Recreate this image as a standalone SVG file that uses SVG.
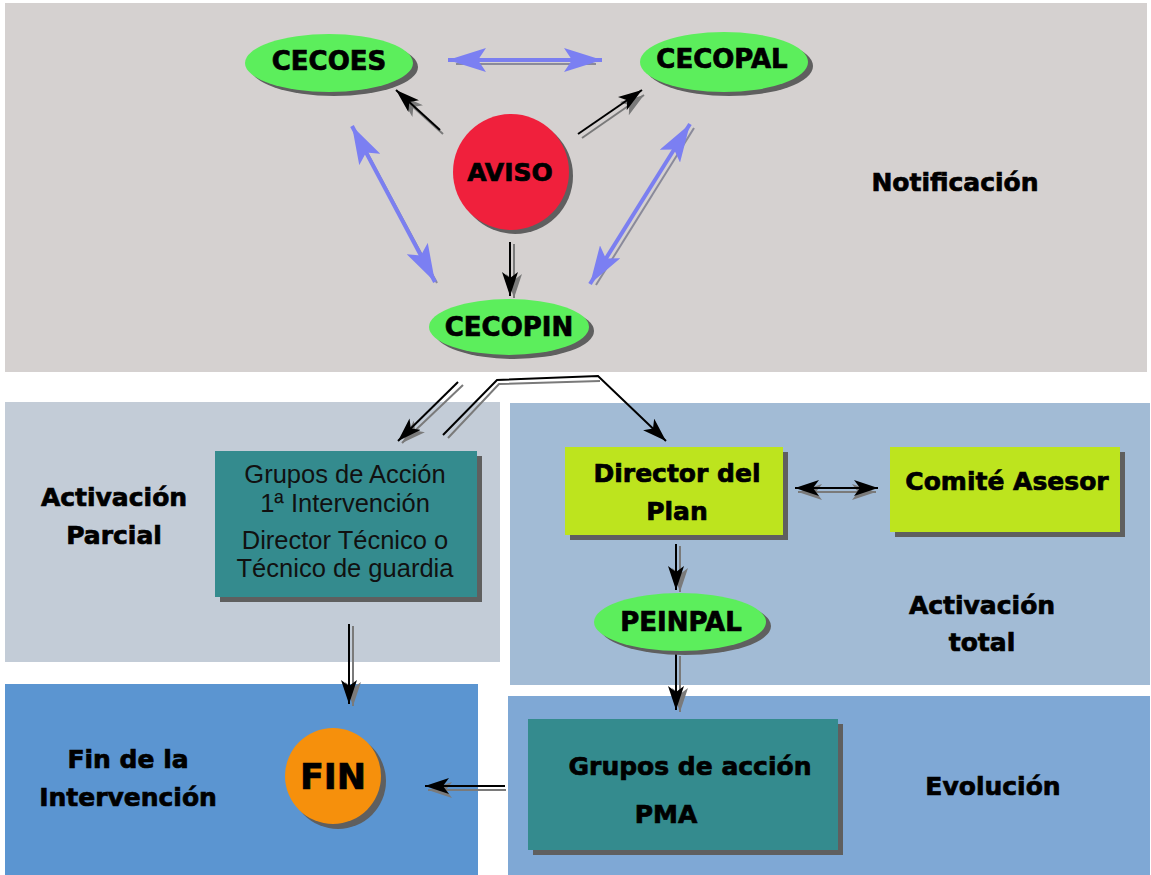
<svg xmlns="http://www.w3.org/2000/svg" width="1151" height="875" viewBox="0 0 1151 875">
<defs>
<style>
.b{font-family:"DejaVu Sans",Verdana,sans-serif;font-weight:bold;fill:#000;stroke:#000;stroke-width:0.7;text-anchor:middle;font-size:25px}
.b26{font-size:26px}
.b34{font-size:35px}
.r{font-family:"Liberation Sans",Arial,sans-serif;fill:#111;text-anchor:middle;font-size:25.5px}
.sh{fill:#5f5f5f}
.ell{fill:#5cee5c}
.ln{stroke:#000;stroke-width:2;fill:none}
.lns{stroke:#7a7a7a;stroke-width:2;fill:none}
.bl{stroke:#7b7ff0;stroke-width:4;fill:none}
.bls{stroke:#8a8a9a;stroke-width:2;fill:none}
</style>
<marker id="ah" viewBox="0 0 24 16" refX="24" refY="8" markerWidth="24" markerHeight="16" orient="auto-start-reverse" markerUnits="userSpaceOnUse"><path d="M0,0 L24,8 L0,16 L6,8 z" fill="#000"/></marker>
<marker id="ahs" viewBox="0 0 24 16" refX="24" refY="8" markerWidth="24" markerHeight="16" orient="auto-start-reverse" markerUnits="userSpaceOnUse"><path d="M0,0 L24,8 L0,16 L6,8 z" fill="#7a7a7a"/></marker>
<marker id="bh" viewBox="0 0 38 24" refX="38" refY="12" markerWidth="38" markerHeight="24" orient="auto-start-reverse" markerUnits="userSpaceOnUse"><path d="M0,0 L38,12 L0,24 L8,12 z" fill="#7b7ff2"/></marker>
</defs>

<!-- panels -->
<rect x="5" y="3" width="1142" height="369" fill="#d5d1d0"/>
<rect x="5" y="402" width="495" height="260" fill="#c3ccd7"/>
<rect x="510" y="403" width="640" height="282" fill="#a2bbd5"/>
<rect x="5" y="684" width="473" height="191" fill="#5b95d1"/>
<rect x="508" y="696" width="642" height="179" fill="#7fa8d5"/>

<!-- labels -->
<text class="b" x="955" y="191">Notificación</text>
<text class="b" x="114" y="506">Activación</text>
<text class="b" x="114" y="544">Parcial</text>
<text class="b" x="982" y="614">Activación</text>
<text class="b" x="982" y="651">total</text>
<text class="b" x="128" y="768">Fin de la</text>
<text class="b" x="128" y="806">Intervención</text>
<text class="b" x="993" y="795">Evolución</text>

<!-- connectors -->
<g id="connectors">
  <line class="bls" x1="456" y1="64" x2="596" y2="64"/>
  <line class="bl" x1="448" y1="60" x2="602" y2="60" marker-start="url(#bh)" marker-end="url(#bh)"/>
  <line class="bls" x1="356" y1="132" x2="437" y2="283"/>
  <line class="bl" x1="352" y1="126" x2="435" y2="282" marker-start="url(#bh)" marker-end="url(#bh)"/>
  <line class="bls" x1="694" y1="128" x2="596" y2="285"/>
  <line class="bl" x1="690" y1="124" x2="590" y2="284" marker-start="url(#bh)" marker-end="url(#bh)"/>
  <line class="lns" x1="443" y1="134" x2="400" y2="95" marker-end="url(#ahs)"/>
  <line class="ln" x1="440" y1="130" x2="396" y2="90" marker-end="url(#ah)"/>
  <line class="lns" x1="582" y1="138" x2="644" y2="95" marker-end="url(#ahs)"/>
  <line class="ln" x1="578" y1="134" x2="642" y2="90" marker-end="url(#ah)"/>
  <line class="lns" x1="514" y1="244" x2="514" y2="298" marker-end="url(#ahs)"/>
  <line class="ln" x1="510" y1="242" x2="510" y2="296" marker-end="url(#ah)"/>
  <line class="lns" x1="463" y1="385" x2="402" y2="443" marker-end="url(#ahs)"/>
  <line class="ln" x1="458" y1="382" x2="398" y2="441" marker-end="url(#ah)"/>
  <polyline class="lns" points="448,438 499,384 600,381"/>
  <polyline class="ln" points="443,435 497,380 598,376 666,441" marker-end="url(#ah)"/>
  <line class="lns" x1="798" y1="492" x2="876" y2="492" marker-start="url(#ahs)" marker-end="url(#ahs)"/>
  <line class="ln" x1="795" y1="488" x2="878" y2="488" marker-start="url(#ah)" marker-end="url(#ah)"/>
  <line class="lns" x1="680" y1="546" x2="680" y2="592" marker-end="url(#ahs)"/>
  <line class="ln" x1="676" y1="544" x2="676" y2="590" marker-end="url(#ah)"/>
  <line class="lns" x1="680" y1="656" x2="680" y2="712" marker-end="url(#ahs)"/>
  <line class="ln" x1="676" y1="654" x2="676" y2="710" marker-end="url(#ah)"/>
  <line class="lns" x1="353" y1="626" x2="353" y2="706" marker-end="url(#ahs)"/>
  <line class="ln" x1="349" y1="624" x2="349" y2="704" marker-end="url(#ah)"/>
  <line class="lns" x1="506" y1="790" x2="428" y2="790" marker-end="url(#ahs)"/>
  <line class="ln" x1="505" y1="786" x2="425" y2="786" marker-end="url(#ah)"/>
</g>

<!-- nodes -->
<g id="cecoes">
  <ellipse class="sh" cx="334" cy="67" rx="84" ry="29"/>
  <ellipse class="ell" cx="329" cy="63" rx="84" ry="29"/>
  <text class="b b26" x="329" y="70">CECOES</text>
</g>
<g id="cecopal">
  <ellipse class="sh" cx="729" cy="66" rx="84" ry="30"/>
  <ellipse class="ell" cx="724" cy="62" rx="84" ry="30"/>
  <text class="b b26" x="722" y="68">CECOPAL</text>
</g>
<g id="aviso">
  <circle class="sh" cx="515" cy="176" r="58"/>
  <circle cx="511" cy="172" r="58" fill="#f0203c"/>
  <text class="b" x="510" y="181">AVISO</text>
</g>
<g id="cecopin">
  <ellipse class="sh" cx="514" cy="331" rx="80" ry="28"/>
  <ellipse class="ell" cx="509" cy="327" rx="80" ry="28"/>
  <text class="b b26" x="509" y="336">CECOPIN</text>
</g>
<g id="grupos1">
  <rect class="sh" x="220" y="456" width="262" height="146"/>
  <rect x="215" y="451" width="262" height="146" fill="#348b8e"/>
  <text class="r" x="345" y="483">Grupos de Acción</text>
  <text class="r" x="345" y="512">1ª Intervención</text>
  <text class="r" x="345" y="549">Director Técnico o</text>
  <text class="r" x="345" y="577">Técnico de guardia</text>
</g>
<g id="director">
  <rect class="sh" x="570" y="452" width="218" height="88"/>
  <rect x="565" y="447" width="218" height="88" fill="#bde41e"/>
  <text class="b" x="677" y="482">Director del</text>
  <text class="b" x="677" y="520">Plan</text>
</g>
<g id="comite">
  <rect class="sh" x="895" y="452" width="230" height="85"/>
  <rect x="890" y="447" width="230" height="85" fill="#bde41e"/>
  <text class="b" x="1007" y="490">Comité Asesor</text>
</g>
<g id="peinpal">
  <ellipse class="sh" cx="685" cy="626" rx="86" ry="29"/>
  <ellipse class="ell" cx="680" cy="622" rx="86" ry="29"/>
  <text class="b b26" x="681" y="631">PEINPAL</text>
</g>
<g id="pma">
  <rect class="sh" x="533" y="724" width="310" height="131"/>
  <rect x="528" y="719" width="310" height="131" fill="#348b8e"/>
  <text class="b" x="690" y="775">Grupos de acción</text>
  <text class="b" x="666" y="823">PMA</text>
</g>
<g id="fin">
  <circle class="sh" cx="338" cy="781" r="48"/>
  <circle cx="333" cy="776" r="48" fill="#f6900c"/>
  <text class="b b34" x="333" y="789">FIN</text>
</g>
</svg>
